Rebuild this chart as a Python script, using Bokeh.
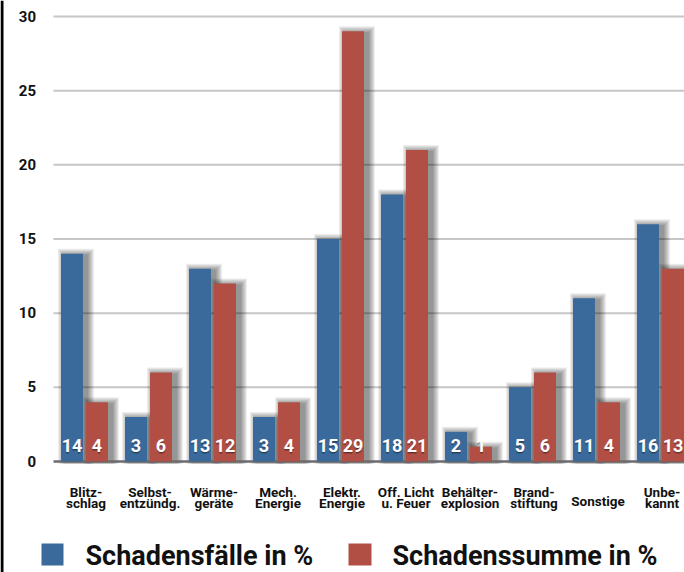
import numpy as np
from bokeh.plotting import figure
from bokeh.models import Range1d, ColumnDataSource
from bokeh.core.properties import value
from bokeh.embed import file_html
from bokeh.resources import INLINE

# ---- data ----
categories = ["Blitz-\nschlag", "Selbst-\nentzündg.", "Wärme-\ngeräte", "Mech.\nEnergie",
              "Elektr.\nEnergie", "Off. Licht\nu. Feuer", "Behälter-\nexplosion",
              "Brand-\nstiftung", "Sonstige", "Unbe-\nkannt"]
schadensfaelle = [14, 3, 13, 3, 15, 18, 2, 5, 11, 16]
schadenssumme = [4, 6, 12, 4, 29, 21, 1, 6, 4, 13]
y_ticks = [0, 5, 10, 15, 20, 25, 30]
legend_labels = ["Schadensfälle in %", "Schadenssumme in %"]

BLUE = "#3a6a9b"
RED = "#b14f45"
FONT = value("Roboto")

# pixel helpers (reference pixel -> data units)
SX = 64.0
X0 = 84.0
SY = 14.833
Y0 = 461.0
TDY = 6.0  # text placement correction (px)
def X(px): return (px - X0) / SX
def Y(py): return (Y0 - py) / SY
def TY(py): return Y(py - TDY)

W, H = 684, 572
p = figure(width=W, height=H,
           x_range=Range1d(X(0), X(W)), y_range=Range1d(Y(H), Y(0)),
           output_backend="svg", toolbar_location=None, min_border=0,
           x_axis_location=None, y_axis_location=None)
p.grid.visible = False
p.outline_line_color = None
p.background_fill_color = "white"
p.border_fill_color = "white"

# left border line
p.segment(x0=[X(1.5)], y0=[Y(0)], x1=[X(1.5)], y1=[Y(H)], line_color="black", line_width=3)

# grid lines
gx0, gx1 = X(53), X(W)
p.segment(x0=[gx0] * (len(y_ticks) - 1), y0=y_ticks[1:], x1=[gx1] * (len(y_ticks) - 1),
          y1=y_ticks[1:], line_color="#c6c6c6", line_width=2)

idx = np.arange(len(categories))
off = 12.5 / SX
w = 22 / SX
xb = idx - off
xr = idx + off
allx = np.concatenate([xb, xr])
allv = np.array(schadensfaelle + schadenssumme, dtype=float)

# soft drop shadows
for k in range(1, 8):
    p.vbar(x=allx + 4 / SX, width=w + 2 * k / SX, top=allv + (k - 2) / SY, bottom=Y(463),
           fill_color="black", fill_alpha=0.07, line_color=None)

# baseline
p.segment(x0=[gx0], y0=[0], x1=[gx1], y1=[0], line_color="#6b6b6b", line_width=2.5)

# bars
p.vbar(x=xb, width=w, top=schadensfaelle, bottom=0, fill_color=BLUE, line_color=None)
p.vbar(x=xr, width=w, top=schadenssumme, bottom=0, fill_color=RED, line_color=None)

# value labels
num_src = ColumnDataSource(dict(x=allx, y=[TY(451)] * len(allx),
                                t=[str(v) for v in schadensfaelle + schadenssumme]))
for dy, a in [(2, 0.2), (1, 0.25)]:
    p.text(x="x", y="y", text="t", source=num_src, text_font=FONT, text_font_style="bold",
           text_font_size="18px", text_color="black", text_alpha=a,
           text_align="center", text_baseline="alphabetic", y_offset=dy)
p.text(x="x", y="y", text="t", source=num_src, text_font=FONT, text_font_style="bold",
       text_font_size="18px", text_color="white", text_align="center",
       text_baseline="alphabetic")

# category labels
lx, ly, lt = [], [], []
for i, c in enumerate(categories):
    parts = c.split("\n")
    cx = i + 1.5 / SX
    if len(parts) == 2:
        lx += [cx, cx]
        ly += [TY(497), TY(508)]
        lt += parts
    else:
        lx.append(cx)
        ly.append(TY(506))
        lt.append(parts[0])
p.text(x=lx, y=ly, text=lt, text_font=FONT, text_font_style="bold", text_font_size="13.5px",
       text_color="#111111", text_align="center", text_baseline="alphabetic")

# y tick labels
p.text(x=[X(35.5)] * len(y_ticks), y=[TY(Y0 - t * SY + 5.5) for t in y_ticks],
       text=[str(t) for t in y_ticks], text_font=FONT, text_font_style="bold",
       text_font_size="15px", text_color="#111111", text_align="right",
       text_baseline="alphabetic")

# legend
p.quad(left=[X(41), X(348)], right=[X(63), X(371)], top=[Y(543), Y(543)],
       bottom=[Y(565), Y(565)], fill_color=[BLUE, RED], line_color=None)
p.text(x=[X(85), X(392)], y=[TY(561), TY(561)], text=legend_labels, text_font=FONT,
       text_font_style="bold", text_font_size="27px", text_color="#111111",
       text_align="left", text_baseline="alphabetic")

open("out.html", "w").write(file_html(p, INLINE))
